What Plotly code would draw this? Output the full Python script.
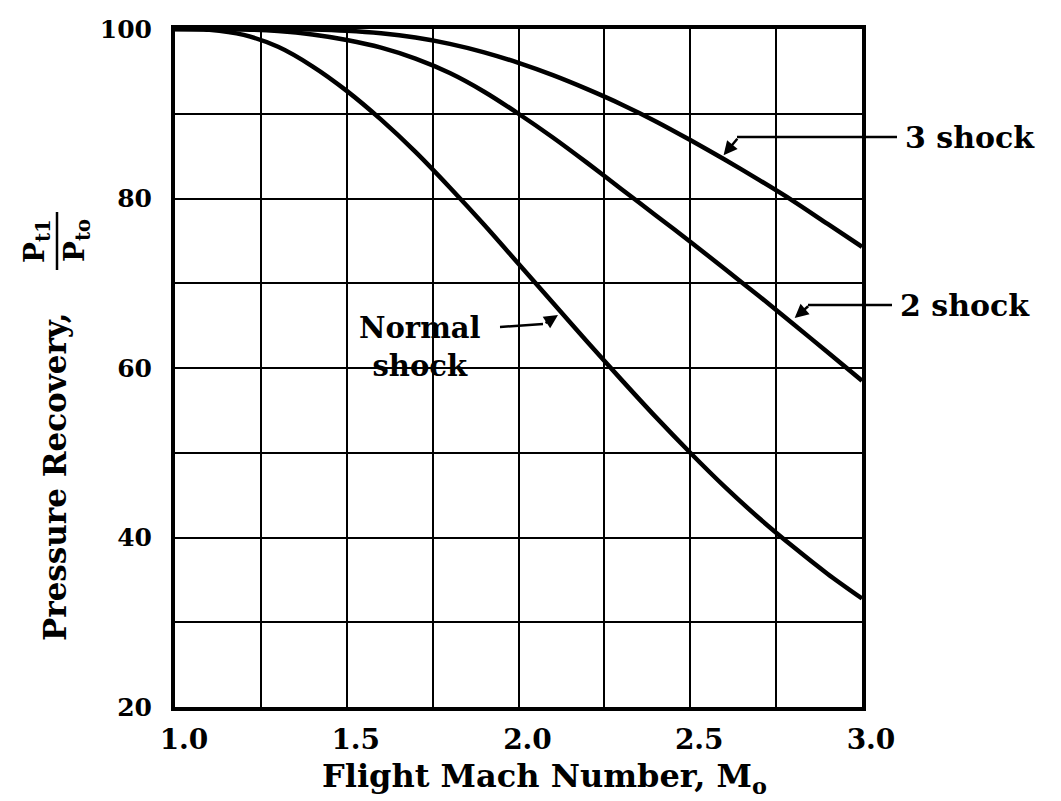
import plotly.graph_objects as go

mach = [1.0, 1.1, 1.2, 1.3, 1.4, 1.5, 1.6, 1.7, 1.8, 1.9, 2.0,
        2.1, 2.2, 2.3, 2.4, 2.5, 2.6, 2.7, 2.8, 2.9, 3.0]
normal_shock = [100, 99.9, 99.3, 97.9, 95.6, 92.7, 89.3, 85.5, 81.3, 76.9, 72.3,
                67.7, 63.1, 58.6, 54.2, 50.0, 46.0, 42.3, 38.9, 35.7, 32.8]
two_shock = [100, 100, 99.95, 99.75, 99.35, 98.7, 97.8, 96.5, 94.8, 92.6, 90.0,
             87.2, 84.2, 81.1, 78.0, 74.9, 71.7, 68.5, 65.2, 61.85, 58.5]
three_shock = [100, 100, 100, 100, 99.95, 99.8, 99.5, 99.0, 98.25, 97.25, 96.0,
               94.55, 92.9, 91.1, 89.1, 86.9, 84.6, 82.2, 79.7, 77.0, 74.3]

x_ticks = [1.0, 1.5, 2.0, 2.5, 3.0]
x_ticktext = ["1.0", "1.5", "2.0", "2.5", "3.0"]
y_ticks = [20, 40, 60, 80, 100]
y_ticktext = ["20", "40", "60", "80", "100"]

serif = "DejaVu Serif"

# plot area in pixels: x 175..862, y 29..707
def px(xp):
    return (xp - 175) / 687.0

def py(yp):
    return (707 - yp) / 678.0

fig = go.Figure()
for name, vals in [("Normal shock", normal_shock), ("2 shock", two_shock), ("3 shock", three_shock)]:
    fig.add_trace(go.Scatter(x=mach, y=vals, mode="lines", name=name,
                             line=dict(color="black", width=4.5, shape="spline", smoothing=0.8),
                             hoverinfo="x+y+name"))

fig.update_layout(
    width=1061, height=801,
    margin=dict(l=175, r=199, t=29, b=94),
    paper_bgcolor="white", plot_bgcolor="white",
    showlegend=False,
)
fig.update_xaxes(range=[1.0, 3.0], tickvals=x_ticks, ticktext=x_ticktext,
                 showgrid=True, gridcolor="black", gridwidth=2,
                 zeroline=False,
                 showline=True, linecolor="black", linewidth=4, mirror=True,
                 ticks="", ticklabelstandoff=4, ticklabelshift=9,
                 tickfont=dict(family=serif, size=28, color="black", weight="bold"),
                 minor=dict(dtick=0.25, tick0=1.0, showgrid=True, gridcolor="black",
                            gridwidth=2, ticks=""))
fig.update_yaxes(range=[20, 100], tickvals=y_ticks, ticktext=y_ticktext,
                 showgrid=True, gridcolor="black", gridwidth=2,
                 zeroline=False,
                 showline=True, linecolor="black", linewidth=4, mirror=True,
                 ticks="", ticklabelstandoff=14,
                 tickfont=dict(family=serif, size=25, color="black", weight="bold"),
                 minor=dict(dtick=10, tick0=20, showgrid=True, gridcolor="black",
                            gridwidth=2, ticks=""))

lab_font = dict(family=serif, size=30, color="black", weight="bold")
lead = dict(color="black", width=2.5)
arrow = dict(arrowhead=2, arrowsize=1.1, arrowwidth=2.5, arrowcolor="black")

# 3 shock label + leader
fig.add_shape(type="line", xref="paper", yref="paper", x0=px(737), x1=px(897),
              y0=py(137), y1=py(137), line=lead)
fig.add_annotation(x=2.597, y=85.1, xref="x", yref="y", text="", showarrow=True,
                   ax=15, ay=-18, **arrow)
fig.add_annotation(x=px(903), y=py(137), xref="paper", yref="paper", text="3 shock",
                   showarrow=False, xanchor="left", yanchor="middle", font=lab_font)

# 2 shock label + leader
fig.add_shape(type="line", xref="paper", yref="paper", x0=px(808), x1=px(892),
              y0=py(305), y1=py(305), line=lead)
fig.add_annotation(x=2.804, y=65.9, xref="x", yref="y", text="", showarrow=True,
                   ax=15, ay=-13, **arrow)
fig.add_annotation(x=px(898), y=py(305), xref="paper", yref="paper", text="2 shock",
                   showarrow=False, xanchor="left", yanchor="middle", font=lab_font)

# Normal shock label + leader
fig.add_shape(type="line", xref="paper", yref="paper", x0=px(500), x1=px(543),
              y0=py(327), y1=py(324), line=lead)
fig.add_annotation(x=2.115, y=66.25, xref="x", yref="y", text="", showarrow=True,
                   ax=-14, ay=9, **arrow)
fig.add_annotation(x=px(420), y=py(347), xref="paper", yref="paper",
                   text="Normal<br>shock", showarrow=False, xanchor="center", yanchor="middle",
                   font=dict(family=serif, size=29, color="black", weight="bold"), align="center")

# Axis titles
fig.add_annotation(x=px(544), y=py(778), xref="paper", yref="paper",
                   text="Flight Mach Number, M<sub>o</sub>", showarrow=False,
                   xanchor="center", yanchor="middle",
                   font=dict(family=serif, size=32, color="black", weight="bold"))
fig.add_annotation(x=px(55), y=py(477), xref="paper", yref="paper",
                   text="Pressure Recovery,", showarrow=False, textangle=-90,
                   xanchor="center", yanchor="middle",
                   font=dict(family=serif, size=31, color="black", weight="bold"))
fig.add_annotation(x=px(37), y=py(241), xref="paper", yref="paper",
                   text="P<sub>t1</sub>", showarrow=False, textangle=-90,
                   xanchor="center", yanchor="middle",
                   font=dict(family=serif, size=28, color="black", weight="bold"))
fig.add_annotation(x=px(77), y=py(241), xref="paper", yref="paper",
                   text="P<sub>to</sub>", showarrow=False, textangle=-90,
                   xanchor="center", yanchor="middle",
                   font=dict(family=serif, size=28, color="black", weight="bold"))
fig.add_shape(type="line", xref="paper", yref="paper",
              x0=px(57), x1=px(57), y0=py(212), y1=py(270),
              line=dict(color="black", width=2.5))

fig.write_html("out.html")
